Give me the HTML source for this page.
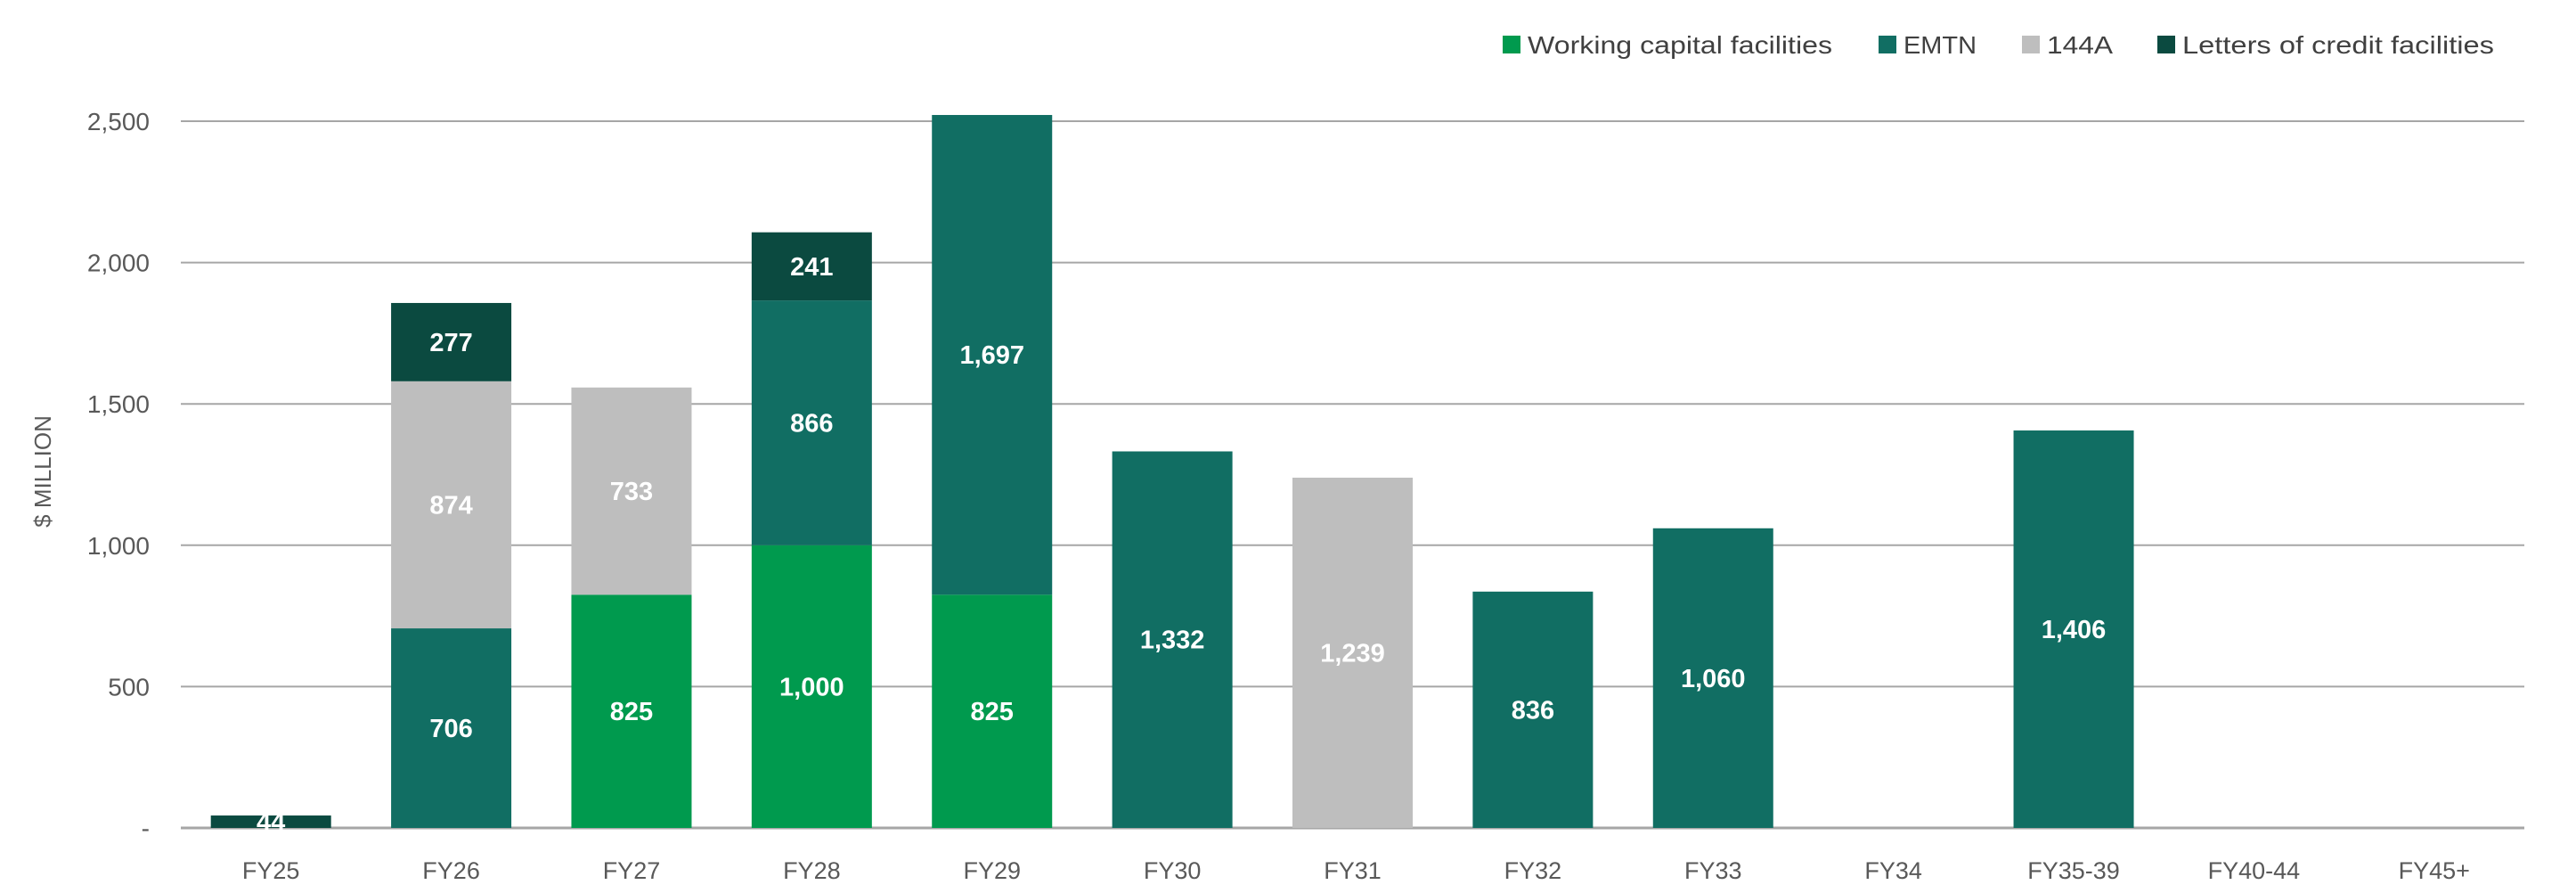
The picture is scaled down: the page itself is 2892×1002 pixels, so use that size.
<!DOCTYPE html>
<html><head><meta charset="utf-8"><style>
html,body{margin:0;padding:0;background:#fff;}
svg{display:block;font-family:"Liberation Sans",sans-serif;}
</style></head><body>
<svg id="chart" width="2892" height="1002" viewBox="0 0 2892 1002" xmlns="http://www.w3.org/2000/svg">
<g id="grid"></g>
<g id="bars"></g>
<g id="xlabels"></g>
<g id="ylabels"></g>
<text transform="translate(57,529) rotate(-90)" text-anchor="middle" font-size="26" fill="#595959">$ MILLION</text>
<g>
  <g><rect x="1687" y="40" width="20" height="20" fill="#009a4e"/><text x="1715" y="60" font-size="28" fill="#404040" textLength="342" lengthAdjust="spacingAndGlyphs">Working capital facilities</text></g>
  <g><rect x="2109" y="40" width="20" height="20" fill="#116e63"/><text x="2137" y="60" font-size="28" fill="#404040" textLength="82" lengthAdjust="spacingAndGlyphs">EMTN</text></g>
  <g><rect x="2270" y="40" width="20" height="20" fill="#bebebe"/><text x="2298" y="60" font-size="28" fill="#404040" textLength="74" lengthAdjust="spacingAndGlyphs">144A</text></g>
  <g><rect x="2422" y="40" width="20" height="20" fill="#0b4a40"/><text x="2450" y="60" font-size="28" fill="#404040" textLength="350" lengthAdjust="spacingAndGlyphs">Letters of credit facilities</text></g>
</g>
</svg>
<script>
const categories = ["FY25","FY26","FY27","FY28","FY29","FY30","FY31","FY32","FY33","FY34","FY35-39","FY40-44","FY45+"];
const workingCapital = [0,0,825,1000,825,0,0,0,0,0,0,0,0];
const emtn = [0,706,0,866,1697,1332,0,836,1060,0,1406,0,0];
const rule144A = [0,874,733,0,0,0,1239,0,0,0,0,0,0];
const lettersOfCredit = [44,277,0,241,0,0,0,0,0,0,0,0,0];
const yTicks = [0,500,1000,1500,2000,2500];
const yTickLabels = ["-","500","1,000","1,500","2,000","2,500"];

const NS="http://www.w3.org/2000/svg";
const X0=203,X1=2834,Y0=929,YTOP=136,YMAX=2500;
const slot=(X1-X0)/categories.length, bw=slot*0.667;
function y(v){return Y0-(v/YMAX)*(Y0-YTOP);}
function xc(i){return X0+slot*(i+0.5);}
function mk(tag,attrs,parent){const e=document.createElementNS(NS,tag);for(const k in attrs)e.setAttribute(k,attrs[k]);parent.appendChild(e);return e;}
function fmt(v){return v.toLocaleString("en-US");}
const grid=document.getElementById("grid"),bars=document.getElementById("bars"),xl=document.getElementById("xlabels"),yl=document.getElementById("ylabels");
yTicks.forEach((t,i)=>{
  const l=mk("line",{x1:X0,x2:X1,y1:y(t),y2:y(t),stroke:"#a6a6a6","stroke-width":t===0?3:2},grid);
  
  
  const tx=mk("text",{x:168,y:y(t)+10,"text-anchor":"end","font-size":"28",fill:"#595959"},yl);
  tx.textContent=yTickLabels[i];
  
  
});
const series=[[workingCapital,"#009a4e","working-capital"],[emtn,"#116e63","emtn"],[rule144A,"#bebebe","144a"],[lettersOfCredit,"#0b4a40","letters-of-credit"]];
categories.forEach((c,i)=>{
  let base=0;
  series.forEach(s=>{
    const v=s[0][i]; if(!v) return;
    const r=mk("rect",{x:xc(i)-bw/2,y:y(base+v),width:bw,height:y(base)-y(base+v),fill:s[1]},bars);
    
    
    const t=mk("text",{x:xc(i),y:(y(base)+y(base+v))/2+10,"text-anchor":"middle","font-size":"29","font-weight":"bold",fill:"#ffffff"},bars);
    t.textContent=fmt(v);
    
    
    base+=v;
  });
  const t=mk("text",{x:xc(i),y:986,"text-anchor":"middle","font-size":"27",fill:"#595959"},xl);
  t.textContent=c;
  
  
});
</script>
</body></html>
